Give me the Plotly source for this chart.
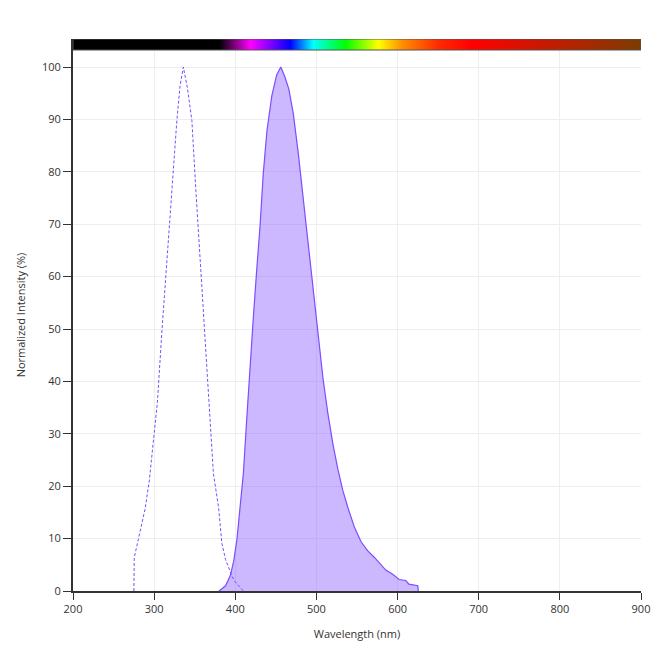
import plotly.graph_objects as go

# Excitation spectrum (dashed)
ex_wl = [275, 275.5, 280, 284, 289, 294, 300, 304, 309.5, 315.5, 322, 328, 332, 336, 341, 346.5, 351.5, 357, 362, 368, 373, 379.5, 383.5, 388, 392, 396, 400, 405, 410]
ex_val = [0, 6.4, 9.5, 12.5, 15.8, 21, 29.3, 36, 49.4, 62.9, 76.3, 89.8, 96.5, 100, 96, 89.8, 76.3, 62.9, 49.4, 36, 22.5, 15.8, 9.1, 6.0, 4.2, 2.8, 1.7, 0.8, 0]

# Emission spectrum (filled)
em_wl = [380, 384, 388, 394, 398, 402, 406, 410, 414, 418, 422.5, 426.5, 430.5, 434.5, 439, 445, 451, 456, 461, 466, 471.5, 477.5, 483.5, 490, 496, 502, 508, 514, 520.5, 526.5, 532.5, 539, 547, 555, 563, 571.5, 579.5, 585.5, 594, 602, 610, 614, 625, 625.5]
em_val = [0, 0.5, 1, 3, 5.7, 9.8, 15.8, 22.5, 32.6, 42.7, 52.8, 61.5, 69.6, 79.7, 87.8, 94.5, 98.5, 100, 98.2, 95.8, 91.1, 83.7, 75, 66.2, 57.5, 48.8, 40.7, 34, 27.9, 23.2, 19.2, 15.8, 12.1, 9.4, 7.7, 6.4, 5, 4, 3.2, 2.2, 2, 1.3, 1, 0]

# Visible-spectrum colour bar stops
bar_wl = [200, 380, 418, 467, 495, 535, 575, 605, 650, 690, 900]
bar_col = ["rgb(0,0,0)", "rgb(0,0,0)", "rgb(255,0,255)", "rgb(0,0,255)", "rgb(0,255,255)",
           "rgb(0,255,0)", "rgb(255,255,0)", "rgb(255,140,0)", "rgb(255,40,0)",
           "rgb(255,0,0)", "rgb(122,61,0)"]

x_range = [200, 900]
y_range = [0, 105.35]
bar_bottom = 103.25

line_col = "#7c4dff"
font = dict(family="Open Sans", size=11, color="#333")

fig = go.Figure()

fig.add_trace(go.Scatter(
    x=em_wl, y=em_val, mode="lines", fill="tozeroy",
    line=dict(color=line_col, width=1.2),
    fillcolor="rgba(124,77,255,0.4)", showlegend=False, hoverinfo="skip"))

fig.add_trace(go.Scatter(
    x=ex_wl, y=ex_val, mode="lines",
    line=dict(color=line_col, width=1, dash="3px,2px"),
    showlegend=False, hoverinfo="skip"))

span = x_range[1] - x_range[0]
cscale = [[(w - x_range[0]) / span, c] for w, c in zip(bar_wl, bar_col)]
fig.add_trace(go.Scatter(
    x=[x_range[0], x_range[1], x_range[1], x_range[0], x_range[0]],
    y=[bar_bottom, bar_bottom, y_range[1], y_range[1], bar_bottom],
    mode="lines", fill="toself",
    fillgradient=dict(type="horizontal", colorscale=cscale, start=x_range[0], stop=x_range[1]),
    line=dict(color="#555", width=1),
    showlegend=False, hoverinfo="skip"))

fig.update_layout(
    width=672, height=646,
    margin=dict(l=63, r=39, t=31, b=63),
    paper_bgcolor="white", plot_bgcolor="white",
    font=font,
    xaxis=dict(range=x_range, dtick=100, tick0=200, showgrid=True, gridcolor="#eeeeee",
               showline=True, linecolor="#333", linewidth=2, ticks="outside", ticklen=7,
               tickcolor="#333", zeroline=False,
               title=dict(text="Wavelength (nm)", font=font, standoff=15)),
    yaxis=dict(range=y_range, tickvals=[0, 10, 20, 30, 40, 50, 60, 70, 80, 90, 100],
               showgrid=True, gridcolor="#eeeeee",
               showline=True, linecolor="#333", linewidth=2, ticks="outside", ticklen=8,
               tickcolor="#333", zeroline=False,
               title=dict(text="Normalized Intensity (%)", font=font, standoff=14)),
)

fig.write_html("out.html")
